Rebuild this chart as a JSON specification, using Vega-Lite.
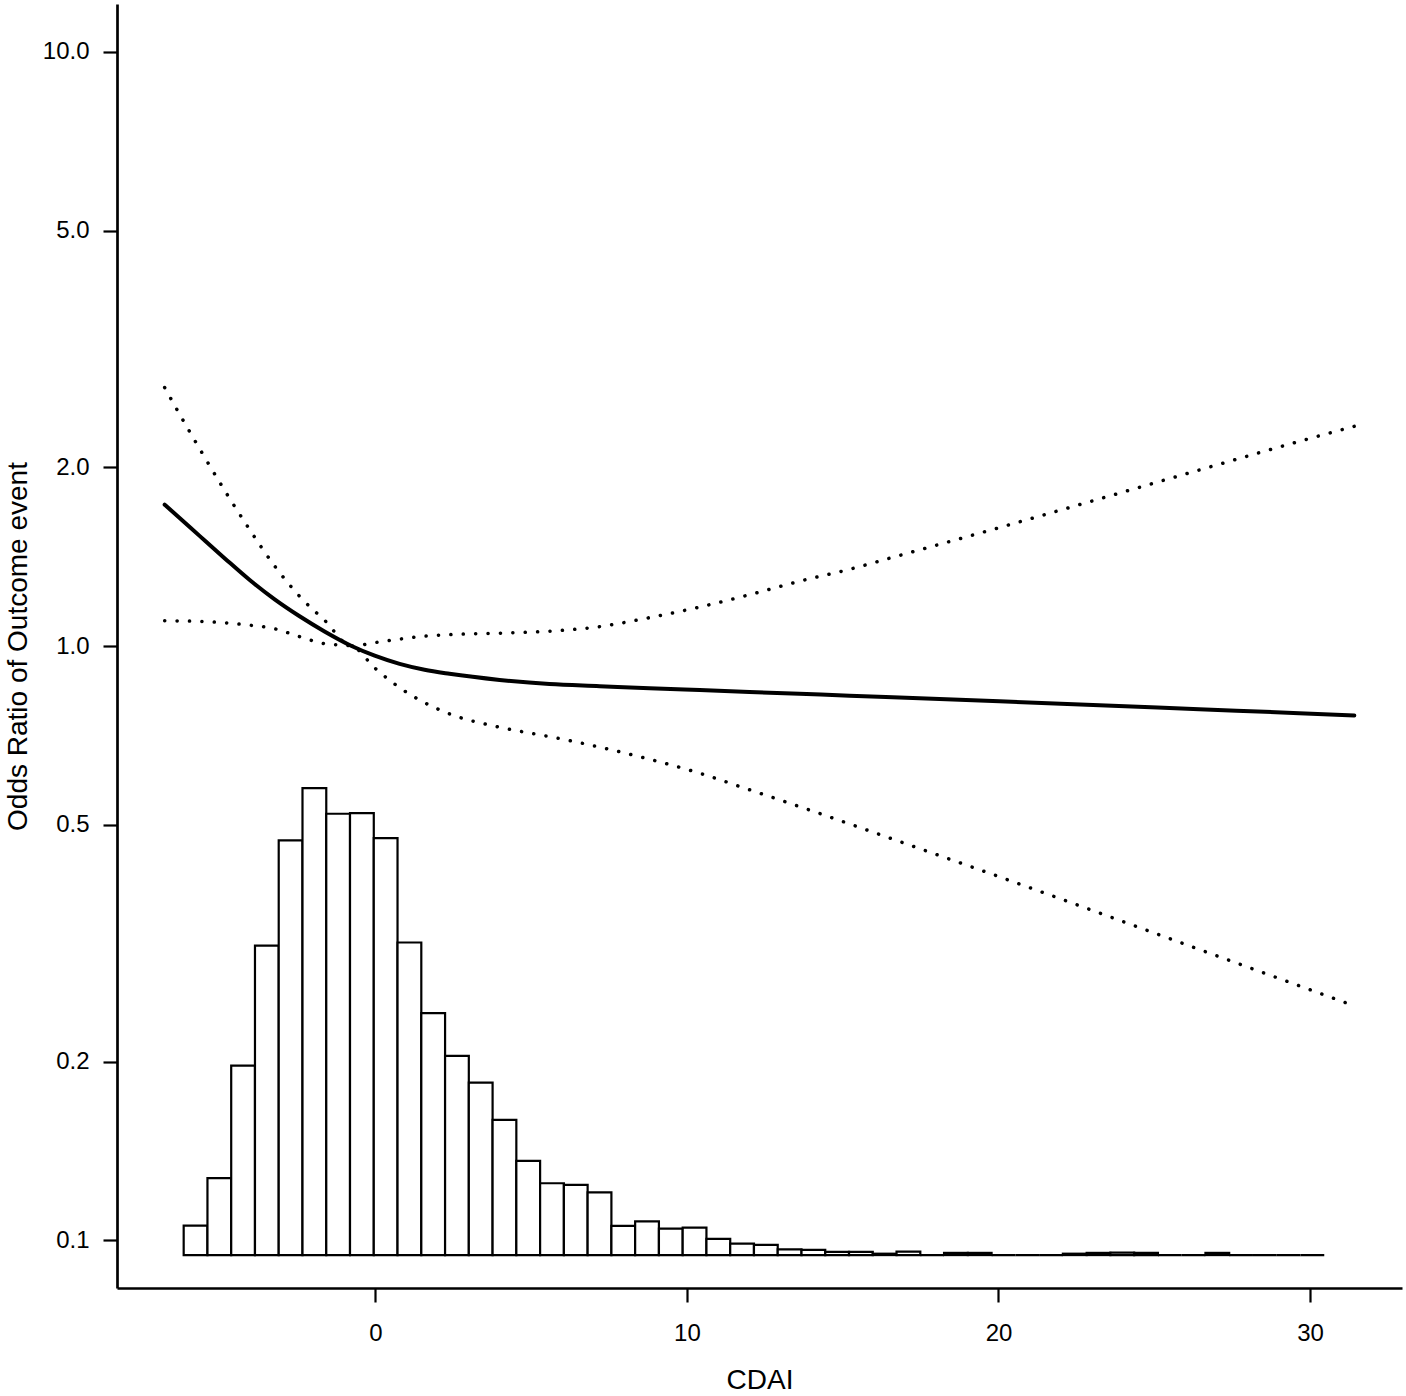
{
  "$schema": "https://vega.github.io/schema/vega-lite/v6.json",
  "width": 1285,
  "height": 1284,
  "autosize": {"type": "none"},
  "padding": {"left": 117, "top": 4, "right": 4, "bottom": 108},
  "background": "white",
  "config": {
    "view": {"stroke": null},
    "axis": {
      "grid": false,
      "domainColor": "black",
      "domainWidth": 2.7,
      "tickColor": "black",
      "tickWidth": 2.2,
      "tickSize": 14,
      "labelFont": "Liberation Sans",
      "labelFontSize": 24,
      "labelColor": "black",
      "titleFont": "Liberation Sans",
      "titleFontSize": 28,
      "titleFontWeight": "normal",
      "titleColor": "black"
    }
  },
  "datasets": {
    "hist": [
      {"x0": -6.150, "x1": -5.387, "top": 0.1059},
      {"x0": -5.387, "x1": -4.625, "top": 0.1273},
      {"x0": -4.625, "x1": -3.862, "top": 0.1968},
      {"x0": -3.862, "x1": -3.100, "top": 0.3134},
      {"x0": -3.100, "x1": -2.337, "top": 0.4709},
      {"x0": -2.337, "x1": -1.574, "top": 0.5768},
      {"x0": -1.574, "x1": -0.812, "top": 0.5222},
      {"x0": -0.812, "x1": -0.049, "top": 0.5236},
      {"x0": -0.049, "x1": 0.713, "top": 0.4753},
      {"x0": 0.713, "x1": 1.476, "top": 0.3171},
      {"x0": 1.476, "x1": 2.239, "top": 0.2412},
      {"x0": 2.239, "x1": 3.001, "top": 0.2044},
      {"x0": 3.001, "x1": 3.764, "top": 0.1843},
      {"x0": 3.764, "x1": 4.526, "top": 0.1595},
      {"x0": 4.526, "x1": 5.289, "top": 0.1361},
      {"x0": 5.289, "x1": 6.052, "top": 0.1248},
      {"x0": 6.052, "x1": 6.814, "top": 0.1240},
      {"x0": 6.814, "x1": 7.577, "top": 0.1205},
      {"x0": 7.577, "x1": 8.339, "top": 0.1058},
      {"x0": 8.339, "x1": 9.102, "top": 0.1077},
      {"x0": 9.102, "x1": 9.865, "top": 0.1047},
      {"x0": 9.865, "x1": 10.627, "top": 0.1051},
      {"x0": 10.627, "x1": 11.390, "top": 0.1006},
      {"x0": 11.390, "x1": 12.152, "top": 0.0988},
      {"x0": 12.152, "x1": 12.915, "top": 0.0983},
      {"x0": 12.915, "x1": 13.678, "top": 0.0966},
      {"x0": 13.678, "x1": 14.440, "top": 0.0964},
      {"x0": 14.440, "x1": 15.203, "top": 0.0957},
      {"x0": 15.203, "x1": 15.965, "top": 0.0957},
      {"x0": 15.965, "x1": 16.728, "top": 0.0950},
      {"x0": 16.728, "x1": 17.491, "top": 0.0958},
      {"x0": 17.491, "x1": 18.253, "top": 0.0945},
      {"x0": 18.253, "x1": 19.016, "top": 0.0953},
      {"x0": 19.016, "x1": 19.778, "top": 0.0953},
      {"x0": 19.778, "x1": 20.541, "top": 0.0945},
      {"x0": 20.541, "x1": 21.304, "top": 0.0945},
      {"x0": 21.304, "x1": 22.066, "top": 0.0945},
      {"x0": 22.066, "x1": 22.829, "top": 0.0950},
      {"x0": 22.829, "x1": 23.591, "top": 0.0953},
      {"x0": 23.591, "x1": 24.354, "top": 0.0954},
      {"x0": 24.354, "x1": 25.117, "top": 0.0953},
      {"x0": 25.117, "x1": 25.879, "top": 0.0945},
      {"x0": 25.879, "x1": 26.642, "top": 0.0945},
      {"x0": 26.642, "x1": 27.404, "top": 0.0953},
      {"x0": 27.404, "x1": 28.167, "top": 0.0945},
      {"x0": 28.167, "x1": 28.930, "top": 0.0945},
      {"x0": 28.930, "x1": 29.692, "top": 0.0945},
      {"x0": 29.692, "x1": 30.455, "top": 0.0945}
    ],
    "curve": [
      {"cdai": -6.76, "or": 1.729, "lower": 1.103, "upper": 2.721},
      {"cdai": -6.28, "or": 1.642, "lower": 1.102, "upper": 2.454},
      {"cdai": -5.64, "or": 1.532, "lower": 1.100, "upper": 2.148},
      {"cdai": -4.83, "or": 1.404, "lower": 1.094, "upper": 1.825},
      {"cdai": -4.03, "or": 1.291, "lower": 1.084, "upper": 1.569},
      {"cdai": -3.23, "or": 1.198, "lower": 1.069, "upper": 1.363},
      {"cdai": -2.43, "or": 1.122, "lower": 1.037, "upper": 1.212},
      {"cdai": -1.63, "or": 1.058, "lower": 1.009, "upper": 1.105},
      {"cdai": -0.76, "or": 1.0, "lower": 1.0, "upper": 1.0},
      {"cdai": -0.02, "or": 0.963, "lower": 0.919, "upper": 1.013},
      {"cdai": 0.78, "or": 0.933, "lower": 0.851, "upper": 1.027},
      {"cdai": 1.58, "or": 0.912, "lower": 0.803, "upper": 1.039},
      {"cdai": 2.38, "or": 0.898, "lower": 0.769, "upper": 1.045},
      {"cdai": 3.99, "or": 0.877, "lower": 0.730, "upper": 1.051},
      {"cdai": 5.59, "or": 0.863, "lower": 0.704, "upper": 1.059},
      {"cdai": 7.20, "or": 0.856, "lower": 0.676, "upper": 1.078},
      {"cdai": 8.80, "or": 0.849, "lower": 0.645, "upper": 1.116},
      {"cdai": 10.41, "or": 0.843, "lower": 0.611, "upper": 1.163},
      {"cdai": 12.01, "or": 0.837, "lower": 0.573, "upper": 1.220},
      {"cdai": 13.61, "or": 0.831, "lower": 0.537, "upper": 1.285},
      {"cdai": 15.22, "or": 0.825, "lower": 0.502, "upper": 1.346},
      {"cdai": 16.82, "or": 0.819, "lower": 0.469, "upper": 1.420},
      {"cdai": 20.03, "or": 0.807, "lower": 0.409, "upper": 1.582},
      {"cdai": 23.24, "or": 0.795, "lower": 0.3555, "upper": 1.768},
      {"cdai": 26.44, "or": 0.783, "lower": 0.3087, "upper": 1.977},
      {"cdai": 29.65, "or": 0.771, "lower": 0.2682, "upper": 2.209},
      {"cdai": 31.42, "or": 0.764, "lower": 0.2481, "upper": 2.342}
    ]
  },
  "layer": [
    {
      "data": {"name": "hist"},
      "mark": {"type": "rect", "fill": "white", "stroke": "black", "strokeWidth": 2.2},
      "encoding": {
        "x": {
          "field": "x0", "type": "quantitative", "title": "CDAI",
          "scale": {"domain": [-8.29, 32.95], "nice": false, "zero": false},
          "axis": {"values": [0, 10, 20, 30], "format": "d", "labelPadding": 19, "titleY": 100, "titleBaseline": "alphabetic"}
        },
        "x2": {"field": "x1"},
        "y": {
          "field": "top", "type": "quantitative", "title": "Odds Ratio of Outcome event",
          "scale": {"type": "log", "domain": [0.08318, 12.023], "nice": false},
          "axis": {"values": [0.1, 0.2, 0.5, 1, 2, 5, 10], "format": ".1f", "labelPadding": 14, "titleX": -91, "titleBaseline": "alphabetic"}
        },
        "y2": {"datum": 0.0945}
      }
    },
    {
      "data": {"name": "curve"},
      "mark": {"type": "line", "stroke": "black", "strokeWidth": 3.5, "strokeDash": [0.1, 12.3], "strokeCap": "round", "interpolate": "monotone"},
      "encoding": {
        "x": {"field": "cdai", "type": "quantitative", "title": "CDAI", "scale": {"domain": [-8.29, 32.95], "nice": false, "zero": false}},
        "y": {"field": "upper", "type": "quantitative", "title": "Odds Ratio of Outcome event", "scale": {"type": "log", "domain": [0.08318, 12.023], "nice": false}}
      }
    },
    {
      "data": {"name": "curve"},
      "mark": {"type": "line", "stroke": "black", "strokeWidth": 3.5, "strokeDash": [0.1, 12.3], "strokeCap": "round", "interpolate": "monotone"},
      "encoding": {
        "x": {"field": "cdai", "type": "quantitative", "title": "CDAI", "scale": {"domain": [-8.29, 32.95], "nice": false, "zero": false}},
        "y": {"field": "lower", "type": "quantitative", "title": "Odds Ratio of Outcome event", "scale": {"type": "log", "domain": [0.08318, 12.023], "nice": false}}
      }
    },
    {
      "data": {"name": "curve"},
      "mark": {"type": "line", "stroke": "black", "strokeWidth": 4, "strokeCap": "round", "interpolate": "monotone"},
      "encoding": {
        "x": {"field": "cdai", "type": "quantitative", "title": "CDAI", "scale": {"domain": [-8.29, 32.95], "nice": false, "zero": false}},
        "y": {"field": "or", "type": "quantitative", "title": "Odds Ratio of Outcome event", "scale": {"type": "log", "domain": [0.08318, 12.023], "nice": false}}
      }
    }
  ]
}
